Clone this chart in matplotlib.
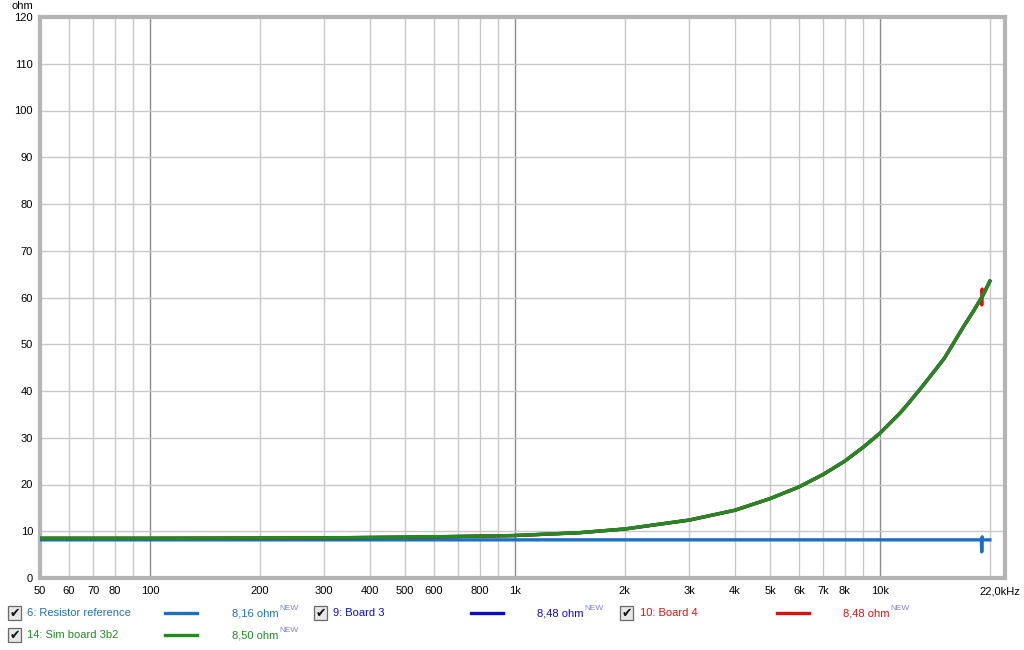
import matplotlib
matplotlib.use("Agg")
import matplotlib.pyplot as plt
import matplotlib.transforms as mtransforms
from matplotlib.patches import Rectangle

plt.rcParams['font.family'] = ['Liberation Sans', 'DejaVu Sans']

# ---- data ----
sim_freq = [50, 100, 200, 300, 500, 700, 1000, 1500, 2000, 3000, 4000, 5000, 6000, 7000,
            8000, 9000, 10000, 11350, 12000, 13000, 14000, 15000, 16000, 17000, 18000, 19000, 20000]
sim_ohm = [8.50, 8.50, 8.55, 8.6, 8.75, 8.9, 9.1, 9.7, 10.5, 12.4, 14.5, 17.0, 19.5, 22.2,
           25.0, 28.0, 31.0, 35.3, 37.5, 40.8, 44.0, 47.0, 50.6, 54.0, 57.0, 60.1, 63.5]

board_freq = [50, 100, 200, 300, 500, 700, 1000, 1500, 2000, 3000, 4000, 5000, 6000, 7000,
              8000, 9000, 10000, 11350, 12000, 13000, 14000, 15000, 16000, 17000, 18000,
              18950, 19000, 19050, 19100, 20000]
board3_ohm = [8.48, 8.48, 8.53, 8.58, 8.73, 8.88, 9.08, 9.68, 10.48, 12.38, 14.48, 16.98, 19.48,
              22.18, 24.98, 27.98, 30.98, 35.28, 37.48, 40.78, 43.98, 46.98, 50.58, 53.98, 56.98,
              59.9, 60.0, 60.2, 60.3, 63.5]
board4_ohm = [8.48, 8.48, 8.53, 8.58, 8.73, 8.88, 9.08, 9.68, 10.48, 12.38, 14.48, 16.98, 19.48,
              22.18, 24.98, 27.98, 30.98, 35.28, 37.48, 40.78, 43.98, 46.98, 50.58, 53.98, 56.98,
              59.9, 58.4, 61.8, 60.3, 63.5]

ref_freq = [50, 1000, 10000, 18950, 19000, 19050, 19100, 20000]
ref_ohm = [8.16, 8.16, 8.16, 8.16, 5.6, 8.8, 8.16, 8.16]

y_ticks = list(range(0, 121, 10))
x_tick_vals = [50, 60, 70, 80, 100, 200, 300, 400, 500, 600, 800, 1000, 2000, 3000, 4000,
               5000, 6000, 7000, 8000, 10000, 22000]
x_tick_labels = ["50", "60", "70", "80", "100", "200", "300", "400", "500", "600", "800", "1k",
                 "2k", "3k", "4k", "5k", "6k", "7k", "8k", "10k", "22,0kHz"]

legend_items = [
    ("6: Resistor reference", "8,16 ohm", "#1e6fc0"),
    ("9: Board 3", "8,48 ohm", "#0a0ad0"),
    ("10: Board 4", "8,48 ohm", "#e01010"),
    ("14: Sim board 3b2", "8,50 ohm", "#1e8c1e"),
]

W, H = 1024, 650
fig = plt.figure(figsize=(W / 100, H / 100), dpi=100)
fig.patch.set_facecolor("white")
L, R, T, B = 40, 1005, 17, 578
ax = fig.add_axes([L / W, 1 - B / H, (R - L) / W, (B - T) / H])
ax.set_xscale("log")
ax.set_xlim(50, 22000)
ax.set_ylim(0, 120)

# grid
grid_freqs = []
for dec in [10, 100, 1000, 10000]:
    for m in range(1, 10):
        f = dec * m
        if 50 <= f <= 22000:
            grid_freqs.append(f)
for f in grid_freqs:
    if f in (100, 1000, 10000):
        ax.axvline(f, color="#8c8c8c", lw=1.0, zorder=1)
    else:
        ax.axvline(f, color="#c8c8c8", lw=1.0, zorder=1)
for yv in y_ticks:
    ax.axhline(yv, color="#c8c8c8", lw=1.0, zorder=1)

lw = 2.4
ax.plot(ref_freq, ref_ohm, color=legend_items[0][2], lw=lw, zorder=3)
ax.plot(board_freq, board3_ohm, color=legend_items[1][2], lw=lw, zorder=4)
ax.plot(board_freq, board4_ohm, color=legend_items[2][2], lw=lw, zorder=5)
ax.plot(sim_freq, sim_ohm, color=legend_items[3][2], lw=lw, zorder=6)

fs = 8
ax.set_yticks(y_ticks)
ax.set_yticklabels([str(v) for v in y_ticks], fontsize=fs)
ax.set_xticks(x_tick_vals)
ax.set_xticklabels(x_tick_labels, fontsize=fs)
ax.xaxis.set_minor_locator(matplotlib.ticker.NullLocator())
ax.tick_params(axis="x", length=0, pad=6, colors="#000000")
ax.tick_params(axis="y", length=0, pad=5, colors="#000000")
shift = mtransforms.ScaledTranslation(-5 / 100, 0, fig.dpi_scale_trans)
for lab in ax.get_xticklabels():
    if lab.get_text() == "22,0kHz":
        lab.set_transform(lab.get_transform() + shift)
for s in ax.spines.values():
    s.set_color("#b4b4b4")
    s.set_linewidth(3)

fig.text(33 / W, 1 - 6 / H, "ohm", fontsize=fs, ha="right", va="center")

# legend
def checkbox(x, y):
    fig.patches.append(Rectangle((x / W, 1 - (y + 7) / H), 13 / W, 14 / H, transform=fig.transFigure,
                                 facecolor="#e6e6e6", edgecolor="#6a6a6a", lw=0.9))
    fig.text((x + 6.5) / W, 1 - y / H, "\u2714", fontsize=9, ha="center", va="center",
             family="DejaVu Sans", color="#111111")

cols = [(8, 27, 165, 232), (314, 333, 471, 537), (620, 640, 777, 843)]
pos = [(0, 613), (1, 613), (2, 613), (0, 635)]
for (name, val, col), (ci, yy) in zip(legend_items, pos):
    cx, lx, sx, vx = cols[ci]
    checkbox(cx, yy)
    fig.text(lx / W, 1 - yy / H, name, fontsize=fs, color=col, ha="left", va="center")
    fig.add_artist(plt.Line2D([sx / W, (sx + 32) / W], [1 - yy / H, 1 - yy / H], color=col, lw=2.4,
                              transform=fig.transFigure))
    fig.text(vx / W, 1 - yy / H, val, fontsize=fs, color=col, ha="left", va="center")
    fig.text((vx + 47.5) / W, 1 - (yy - 4) / H, "NEW", fontsize=6, color="#8080e0", ha="left", va="center")

fig.savefig("out.png", dpi=100)
